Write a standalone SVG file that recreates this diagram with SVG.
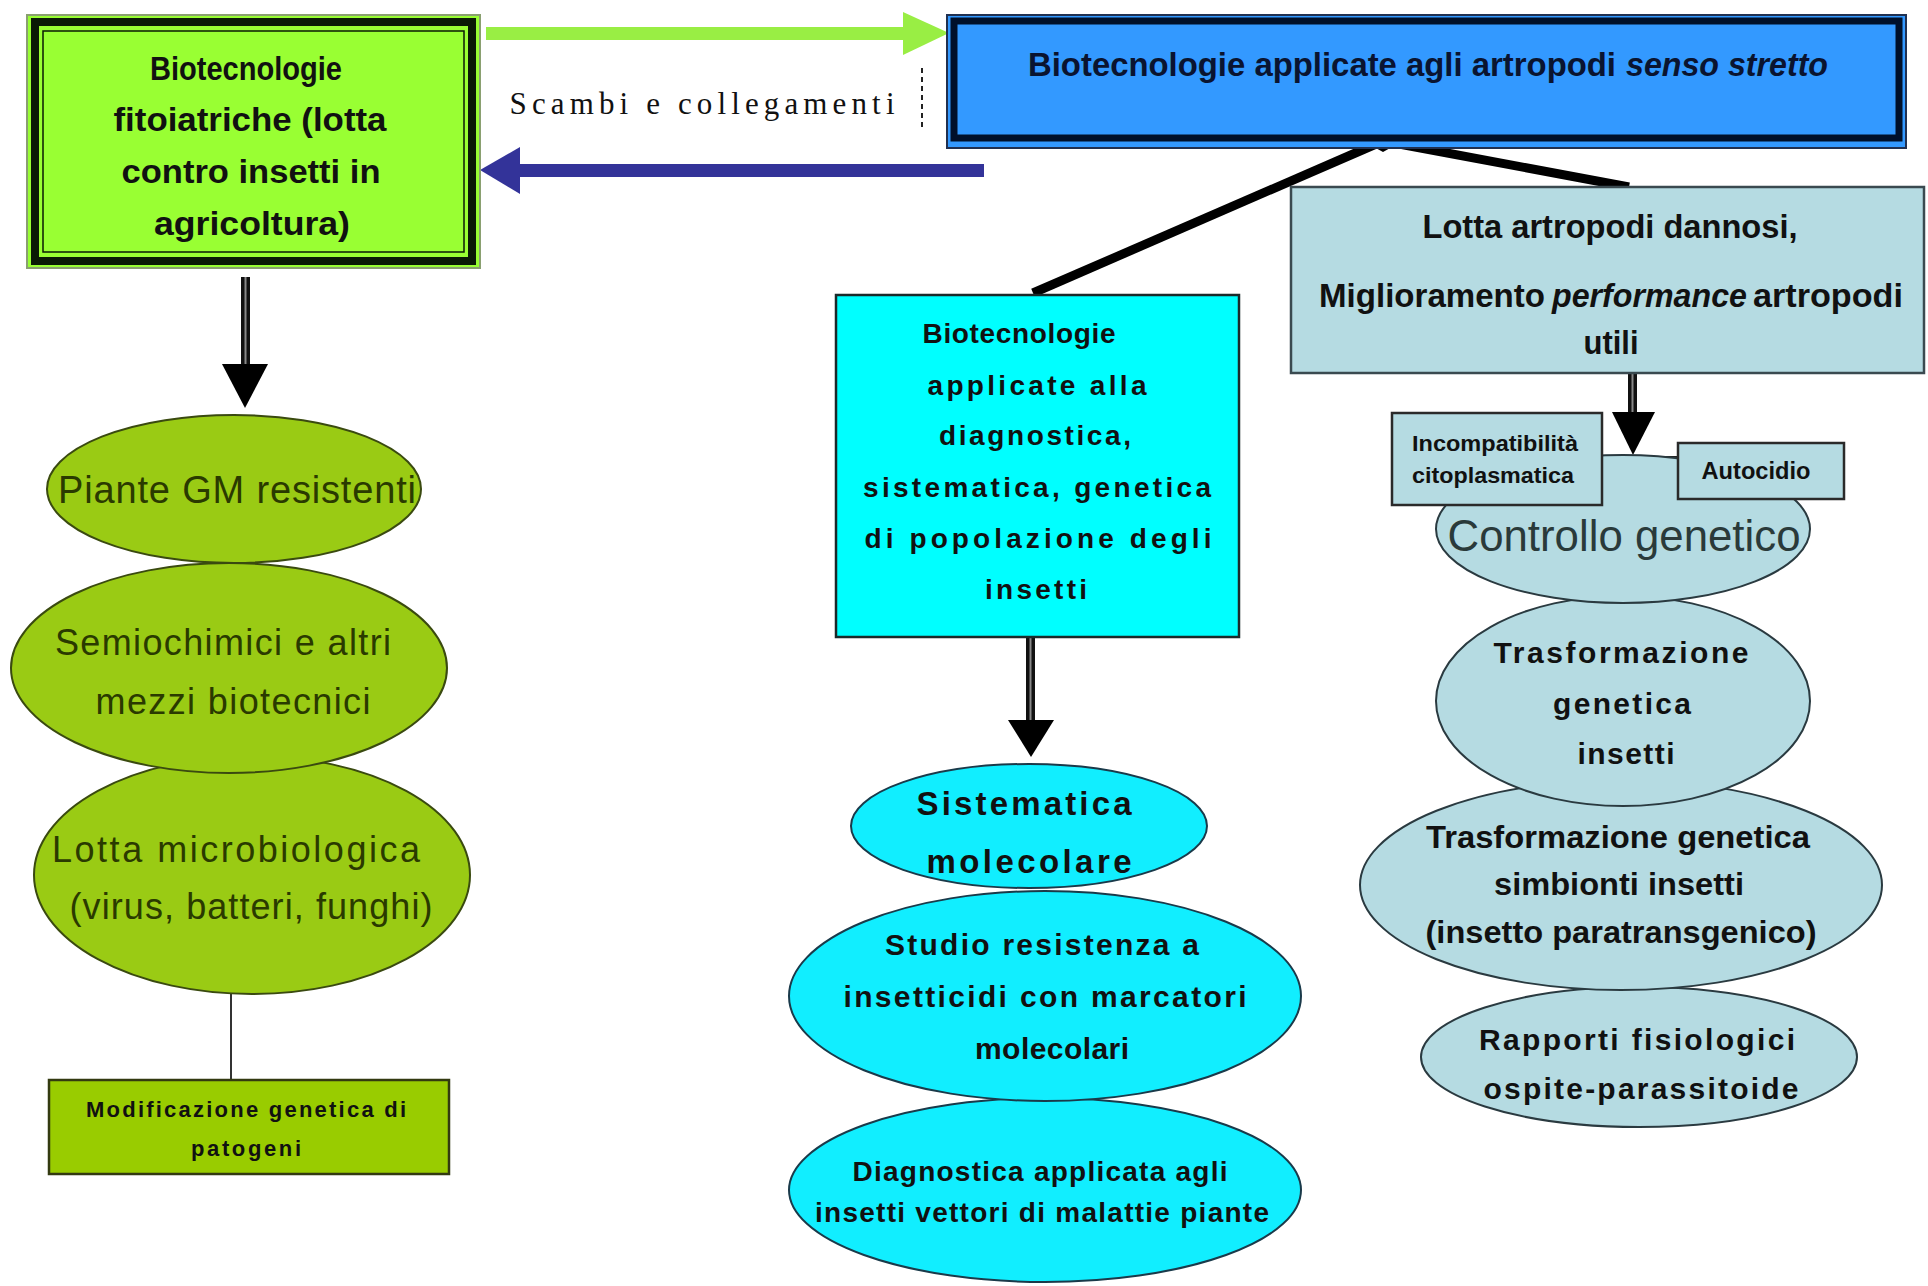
<svg xmlns="http://www.w3.org/2000/svg" width="1928" height="1286" viewBox="0 0 1928 1286">
<style>
.t{font-family:"Liberation Sans",Arial,sans-serif;text-anchor:middle;fill:#111}
.s{text-anchor:start}
.b{font-weight:bold}
.i{font-style:italic}
.thin{font-weight:normal}
.olive{fill:#9acb14;stroke:#3a4a10;stroke-width:2}
.cy{fill:#11eeff;stroke:#1a3a4a;stroke-width:2}
.lb{fill:#b5dbe2;stroke:#2a3a40;stroke-width:2}
.gt{fill:#2a3a00}
</style>
<rect width="1928" height="1286" fill="#ffffff"/>

<g id="connectors">
  <rect x="486" y="27" width="420" height="13" fill="#99ee44"/>
  <polygon points="903,12 949,33 903,55" fill="#99ee44"/>
  <rect x="512" y="164" width="472" height="13" fill="#333399"/>
  <polygon points="520,147 480,170 520,194" fill="#333399"/>
  <line x1="922" y1="68" x2="922" y2="129" stroke="#222" stroke-width="2" stroke-dasharray="5,4"/>
  <line x1="1383" y1="141" x2="1033" y2="293" stroke="#000" stroke-width="9"/>
  <line x1="1383" y1="141" x2="1629" y2="187" stroke="#000" stroke-width="9"/>
  <polygon points="1365,142 1401,142 1383,152" fill="#000"/>
  <rect x="241" y="277" width="9" height="90" fill="#111"/>
  <line x1="245.5" y1="277" x2="245.5" y2="365" stroke="#888" stroke-width="2"/>
  <polygon points="222,364 268,364 245,408" fill="#000"/>
  <rect x="1026" y="637" width="9" height="86" fill="#111"/>
  <line x1="1030.5" y1="637" x2="1030.5" y2="722" stroke="#888" stroke-width="2"/>
  <polygon points="1008,720 1054,720 1031,757" fill="#000"/>
  <rect x="1628" y="373" width="9" height="42" fill="#111"/>
  <line x1="1632.5" y1="373" x2="1632.5" y2="414" stroke="#888" stroke-width="2"/>
  <polygon points="1612,412 1655,412 1633,455" fill="#000"/>
  <line x1="231" y1="994" x2="231" y2="1080" stroke="#333" stroke-width="2"/>
  <line x1="1602" y1="457" x2="1678" y2="457" stroke="#222" stroke-width="2"/>
</g>

<g id="scambi">
  <text class="t" x="702" y="114" style="font-family:'Liberation Serif',serif" font-size="31" textLength="385" lengthAdjust="spacing">Scambi e collegamenti</text>
</g>

<g id="node-fitoiatriche">
  <rect x="27" y="15" width="453" height="253" fill="#99ff33" stroke="#8aa070" stroke-width="2"/>
  <rect x="35" y="22" width="437" height="239" fill="none" stroke="#0a1a05" stroke-width="8"/>
  <rect x="43" y="31" width="421" height="221" fill="none" stroke="#0a1a05" stroke-width="1.5"/>
  <text class="t b" x="246" y="80" font-size="34" textLength="192" lengthAdjust="spacingAndGlyphs">Biotecnologie</text>
  <text class="t b" x="250" y="131" font-size="34" textLength="273" lengthAdjust="spacingAndGlyphs">fitoiatriche (lotta</text>
  <text class="t b" x="251" y="183" font-size="34" textLength="259" lengthAdjust="spacingAndGlyphs">contro insetti in</text>
  <text class="t b" x="252" y="235" font-size="34" textLength="196" lengthAdjust="spacingAndGlyphs">agricoltura)</text>
</g>

<g id="node-senso-stretto">
  <rect x="947" y="15" width="959" height="133" fill="#3399ff" stroke="#203050" stroke-width="2"/>
  <rect x="954" y="21" width="945" height="117" fill="none" stroke="#00102a" stroke-width="7"/>
  <text class="t s b" x="1028" y="76" font-size="34" style="fill:#0a1430" textLength="588" lengthAdjust="spacingAndGlyphs">Biotecnologie applicate agli artropodi</text>
  <text class="t s b i" x="1626" y="76" font-size="34" style="fill:#0a1430" textLength="202" lengthAdjust="spacingAndGlyphs">senso stretto</text>
</g>

<g id="node-diagnostica">
  <rect x="836" y="295" width="403" height="342" fill="#00ffff" stroke="#1a2a2a" stroke-width="2.5"/>
  <text class="t b" x="1019" y="343" font-size="28" textLength="193" lengthAdjust="spacing">Biotecnologie</text>
  <text class="t b" x="1037" y="395" font-size="28" textLength="219" lengthAdjust="spacing">applicate alla</text>
  <text class="t b" x="1035" y="445" font-size="28" textLength="192" lengthAdjust="spacing">diagnostica,</text>
  <text class="t b" x="1037" y="497" font-size="28" textLength="348" lengthAdjust="spacing">sistematica, genetica</text>
  <text class="t b" x="1038" y="548" font-size="28" textLength="347" lengthAdjust="spacing">di popolazione  degli</text>
  <text class="t b" x="1036" y="599" font-size="28" textLength="102" lengthAdjust="spacing">insetti</text>
</g>

<g id="node-lotta-artropodi">
  <rect x="1291" y="187" width="633" height="186" fill="#b5dbe2" stroke="#3a4a50" stroke-width="2.5"/>
  <text class="t b" x="1610" y="238" font-size="33" textLength="375" lengthAdjust="spacingAndGlyphs">Lotta artropodi dannosi,</text>
  <text class="t s b" x="1319" y="307" font-size="33" textLength="226" lengthAdjust="spacingAndGlyphs">Miglioramento</text>
  <text class="t s b i" x="1552" y="307" font-size="33" textLength="195" lengthAdjust="spacingAndGlyphs">performance</text>
  <text class="t s b" x="1753" y="307" font-size="33" textLength="150" lengthAdjust="spacingAndGlyphs">artropodi</text>
  <text class="t b" x="1611" y="354" font-size="33" textLength="55" lengthAdjust="spacingAndGlyphs">utili</text>
</g>

<g id="node-lotta-micro">
  <ellipse class="olive" cx="252" cy="875" rx="218" ry="119"/>
  <text class="t thin gt" x="236" y="862" font-size="36" textLength="368" lengthAdjust="spacing">Lotta microbiologica</text>
  <text class="t thin gt" x="251" y="919" font-size="36" textLength="363" lengthAdjust="spacing">(virus, batteri, funghi)</text>
</g>
<g id="node-semiochimici">
  <ellipse class="olive" cx="229" cy="668" rx="218" ry="105"/>
  <text class="t thin gt" x="223" y="655" font-size="36" textLength="336" lengthAdjust="spacing">Semiochimici e altri</text>
  <text class="t thin gt" x="233" y="714" font-size="36" textLength="275" lengthAdjust="spacing">mezzi biotecnici</text>
</g>
<g id="node-piante-gm">
  <ellipse class="olive" cx="234" cy="489" rx="187" ry="74"/>
  <text class="t thin gt" x="237" y="503" font-size="38" textLength="358" lengthAdjust="spacing">Piante GM resistenti</text>
</g>
<g id="node-modificazione">
  <rect x="49" y="1080" width="400" height="94" fill="#99cc00" stroke="#333a10" stroke-width="2.5"/>
  <text class="t b" x="246" y="1117" font-size="22" textLength="320" lengthAdjust="spacing">Modificazione genetica di</text>
  <text class="t b" x="246" y="1156" font-size="22" textLength="110" lengthAdjust="spacing">patogeni</text>
</g>

<g id="node-diagnostica-vettori">
  <ellipse class="cy" cx="1045" cy="1190" rx="256" ry="92"/>
  <text class="t b" x="1040" y="1181" font-size="28" textLength="375" lengthAdjust="spacing">Diagnostica applicata agli</text>
  <text class="t b" x="1042" y="1222" font-size="28" textLength="454" lengthAdjust="spacing">insetti vettori di malattie piante</text>
</g>
<g id="node-studio-resistenza">
  <ellipse class="cy" cx="1045" cy="996" rx="256" ry="105"/>
  <text class="t b" x="1042" y="955" font-size="30" textLength="314" lengthAdjust="spacing">Studio resistenza a</text>
  <text class="t b" x="1045" y="1007" font-size="30" textLength="403" lengthAdjust="spacing">insetticidi con marcatori</text>
  <text class="t b" x="1052" y="1059" font-size="30" textLength="154" lengthAdjust="spacing">molecolari</text>
</g>
<g id="node-sistematica">
  <ellipse class="cy" cx="1029" cy="826" rx="178" ry="62"/>
  <text class="t b" x="1024" y="815" font-size="33" textLength="215" lengthAdjust="spacing">Sistematica</text>
  <text class="t b" x="1029" y="873" font-size="33" textLength="205" lengthAdjust="spacing">molecolare</text>
</g>

<g id="node-rapporti">
  <ellipse class="lb" cx="1639" cy="1057" rx="218" ry="70"/>
  <text class="t b" x="1637" y="1050" font-size="30" textLength="316" lengthAdjust="spacing">Rapporti fisiologici</text>
  <text class="t b" x="1641" y="1099" font-size="30" textLength="315" lengthAdjust="spacing">ospite-parassitoide</text>
</g>
<g id="node-simbionti">
  <ellipse class="lb" cx="1621" cy="885" rx="261" ry="105"/>
  <text class="t b" x="1618" y="848" font-size="32" textLength="384" lengthAdjust="spacingAndGlyphs">Trasformazione genetica</text>
  <text class="t b" x="1619" y="895" font-size="32" textLength="250" lengthAdjust="spacingAndGlyphs">simbionti insetti</text>
  <text class="t b" x="1621" y="943" font-size="32" textLength="391" lengthAdjust="spacingAndGlyphs">(insetto paratransgenico)</text>
</g>
<g id="node-trasformazione-insetti">
  <ellipse class="lb" cx="1623" cy="701" rx="187" ry="105"/>
  <text class="t b" x="1621" y="663" font-size="30" textLength="255" lengthAdjust="spacing">Trasformazione</text>
  <text class="t b" x="1622" y="714" font-size="30" textLength="138" lengthAdjust="spacing">genetica</text>
  <text class="t b" x="1626" y="764" font-size="30" textLength="97" lengthAdjust="spacing">insetti</text>
</g>
<g id="node-controllo">
  <ellipse class="lb" cx="1623" cy="529" rx="187" ry="74"/>
  <text class="t thin" x="1624" y="551" font-size="44" style="fill:#2a3a3a" textLength="353" lengthAdjust="spacingAndGlyphs">Controllo genetico</text>
</g>
<g id="node-incompatibilita">
  <rect x="1392" y="413" width="210" height="92" fill="#b5dbe2" stroke="#2a2a2a" stroke-width="2.5"/>
  <text class="t b" x="1495" y="451" font-size="22" textLength="166" lengthAdjust="spacingAndGlyphs">Incompatibilità</text>
  <text class="t b" x="1493" y="483" font-size="22" textLength="162" lengthAdjust="spacingAndGlyphs">citoplasmatica</text>
</g>
<g id="node-autocidio">
  <rect x="1678" y="443" width="166" height="56" fill="#b5dbe2" stroke="#2a2a2a" stroke-width="2.5"/>
  <text class="t b" x="1756" y="479" font-size="23" textLength="109" lengthAdjust="spacingAndGlyphs">Autocidio</text>
</g>
</svg>
